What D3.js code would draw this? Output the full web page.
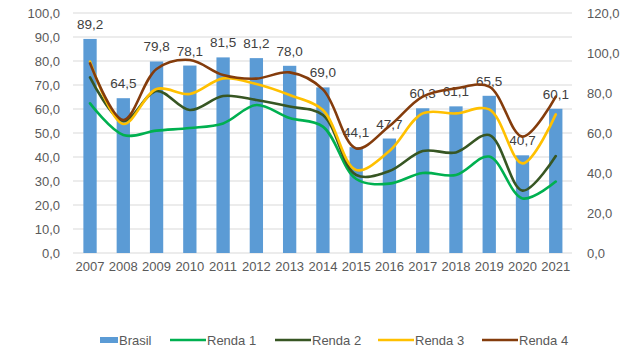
<!DOCTYPE html>
<html><head><meta charset="utf-8">
<script src="https://cdn.jsdelivr.net/npm/d3@7"></script>
<style>body{margin:0;background:#fff;} svg{display:block;font-family:"Liberation Sans",Arial,sans-serif;}</style>
</head><body>
<svg id="c" width="644" height="357"></svg>
<script>
const years = ["2007","2008","2009","2010","2011","2012","2013","2014","2015","2016","2017","2018","2019","2020","2021"];
const brasil = [89.2,64.5,79.8,78.1,81.5,81.2,78.0,69.0,44.1,47.7,60.3,61.1,65.5,40.7,60.1];
const renda1 = [74.8,59.0,61.2,62.5,64.8,74.0,67.5,63.2,37.0,34.7,40.0,39.0,48.2,27.3,35.7];
const renda2 = [87.8,66.0,81.0,71.5,78.5,76.5,73.2,69.0,39.0,41.0,51.0,50.3,59.0,31.2,48.5];
const renda3 = [95.7,64.5,82.0,79.5,87.3,84.5,79.0,71.5,41.5,51.0,69.8,69.8,71.8,44.8,69.3];
const renda4 = [94.8,66.5,92.0,96.5,89.0,87.2,90.3,81.8,52.3,63.5,78.2,82.3,83.2,58.2,78.2];
const leftTicks = [0,10,20,30,40,50,60,70,80,90,100];
const rightTicks = [0,20,40,60,80,100,120];
const seriesNames = ["Renda 1","Renda 2","Renda 3","Renda 4"];
const seriesColors = ["#00B050","#375623","#FFC000","#843C0C"];
const barColor = "#5B9BD5";
const fmt = v => v.toFixed(1).replace(".", ",");

const svg = d3.select("#c");
const x = d3.scaleBand().domain(years).range([73.4, 572.4]).paddingInner(0.6).paddingOuter(0.3);
const yL = d3.scaleLinear().domain([0,100]).range([253,13]);
const yR = d3.scaleLinear().domain([0,120]).range([253,13]);

// gridlines
svg.append("g").selectAll("line").data(leftTicks).join("line")
  .attr("x1", 73).attr("x2", 572)
  .attr("y1", d => yL(d)).attr("y2", d => yL(d))
  .attr("stroke", "#D9D9D9").attr("stroke-width", 1);

// left axis
const axL = svg.append("g").attr("transform","translate(73,0)")
  .call(d3.axisLeft(yL).tickValues(leftTicks).tickFormat(fmt).tickSize(0).tickPadding(13));
axL.select(".domain").remove();
axL.selectAll("text").attr("fill","#595959").style("font-size","13px").style("font-family","Liberation Sans, Arial, sans-serif");

// right axis
const axR = svg.append("g").attr("transform","translate(572,0)")
  .call(d3.axisRight(yR).tickValues(rightTicks).tickFormat(fmt).tickSize(0).tickPadding(15));
axR.select(".domain").remove();
axR.selectAll("text").attr("fill","#595959").style("font-size","13px").style("font-family","Liberation Sans, Arial, sans-serif");

// x axis
const axX = svg.append("g").attr("transform","translate(0,253)")
  .call(d3.axisBottom(x).tickSize(0).tickPadding(9));
axX.select(".domain").remove();
axX.selectAll("text").attr("fill","#595959").style("font-size","13px").style("font-family","Liberation Sans, Arial, sans-serif");

// bars
svg.append("g").selectAll("rect").data(brasil).join("rect")
  .attr("x", (d,i) => x(years[i])).attr("width", x.bandwidth())
  .attr("y", d => yL(d)).attr("height", d => yL(0) - yL(d))
  .attr("fill", barColor);

// data labels
svg.append("g").selectAll("text").data(brasil).join("text")
  .attr("x", (d,i) => x(years[i]) + x.bandwidth()/2)
  .attr("y", d => yL(d) - 10)
  .attr("text-anchor","middle").attr("fill","#404040")
  .style("font-size","13.5px").text(fmt);

// lines
const allSeries = [renda1, renda2, renda3, renda4];
const line = d3.line()
  .x((d,i) => x(years[i]) + x.bandwidth()/2)
  .y(d => yR(d))
  .curve(d3.curveCatmullRom.alpha(0.5));
svg.append("g").selectAll("path").data(allSeries).join("path")
  .attr("d", d => line(d)).attr("fill","none")
  .attr("stroke", (d,i) => seriesColors[i]).attr("stroke-width", 2.6)
  .attr("stroke-linecap","round").attr("stroke-linejoin","round");

// legend
const lg = svg.append("g");
lg.append("rect").attr("x",100).attr("y",337).attr("width",18).attr("height",6).attr("fill",barColor);
lg.append("text").attr("x",119).attr("y",344.5).attr("fill","#595959").style("font-size","13px").text("Brasil");
const lxs = [170, 275, 378, 482];
seriesNames.forEach((n,i) => {
  lg.append("line").attr("x1",lxs[i]).attr("x2",lxs[i]+36).attr("y1",340).attr("y2",340)
    .attr("stroke",seriesColors[i]).attr("stroke-width",2.6);
  lg.append("text").attr("x",lxs[i]+37).attr("y",344.5).attr("fill","#595959").style("font-size","13px").text(n);
});
</script>
</body></html>
